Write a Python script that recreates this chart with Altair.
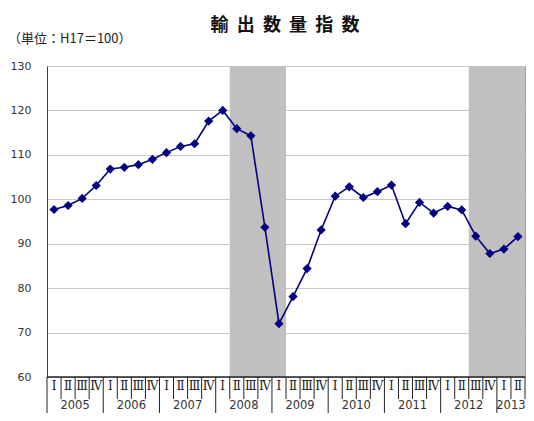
import altair as alt
import pandas as pd

# ---- data ----
years = ["2005", "2006", "2007", "2008", "2009", "2010", "2011", "2012", "2013"]
quarter_names = ["Ⅰ", "Ⅱ", "Ⅲ", "Ⅳ"]
values = [97.7, 98.6, 100.2, 103.1,
          106.8, 107.2, 107.8, 109.0,
          110.5, 111.9, 112.5, 117.6,
          120.0, 115.9, 114.3, 93.7,
          72.0, 78.1, 84.4, 93.1,
          100.7, 102.8, 100.4, 101.7,
          103.2, 94.5, 99.3, 96.9,
          98.4, 97.6, 91.7, 87.8,
          88.8, 91.6]
shade_start = [13, 30]
shade_end = [17, 34]
y_ticks = [60, 70, 80, 90, 100, 110, 120, 130]
title_text = "輸\u00a0\u00a0出\u00a0\u00a0数\u00a0\u00a0量\u00a0\u00a0指\u00a0\u00a0数"
unit_text = "（単位：H17＝100）"

W, H = 478, 311
n = len(values)

df = pd.DataFrame({
    "pos": [i + 0.5 for i in range(n)],
    "v": values,
    "q": [quarter_names[i % 4] for i in range(n)],
})
year_df = pd.DataFrame({
    "year": years,
    "pos": [(4 * k + min(4 * k + 4, n)) / 2 for k in range(len(years))],
})
shade_df = pd.DataFrame({"s": shade_start, "e": shade_end})
short_df = pd.DataFrame({"k": [k for k in range(1, n + 1) if k % 4 != 0 or k == n]})
long_df = pd.DataFrame({"k": [k for k in range(0, n) if k % 4 == 0]})

xscale = alt.Scale(domain=[0, n], nice=False, zero=False)
yscale = alt.Scale(domain=[60, 130], nice=False, zero=False)

shade = alt.Chart(shade_df).mark_rect(color="#c0c0c0").encode(
    x=alt.X("s:Q", scale=xscale,
            axis=alt.Axis(labels=False, ticks=False, grid=False, domain=False, title=None)),
    x2="e:Q",
    y=alt.value(0),
    y2=alt.value(H),
)

base = alt.Chart(df)
line = base.mark_line(color="#000080", strokeWidth=1.6).encode(
    x=alt.X("pos:Q", scale=xscale),
    y=alt.Y("v:Q", scale=yscale,
            axis=alt.Axis(values=y_ticks, grid=True, gridColor="#c8c8c8", gridWidth=1,
                          domain=True, domainColor="#404040", ticks=False,
                          labelPadding=16, labelFont="DejaVu Sans", labelFontSize=11,
                          labelColor="#333333", title=None)),
)
points = base.mark_point(shape="diamond", filled=True, size=85, color="#000080", opacity=1).encode(
    x=alt.X("pos:Q", scale=xscale),
    y=alt.Y("v:Q", scale=yscale),
)

qlabels = base.mark_text(font="DejaVu Serif", fontSize=12, color="#222222", baseline="middle").encode(
    x=alt.X("pos:Q", scale=xscale),
    y=alt.value(H + 9),
    text="q:N",
)
ylabels = alt.Chart(year_df).mark_text(font="DejaVu Sans", fontSize=11.5, color="#333333",
                                       baseline="middle").encode(
    x=alt.X("pos:Q", scale=xscale),
    y=alt.value(H + 29),
    text="year:N",
)

bottom_line = alt.Chart(shade_df).mark_rule(color="#222222", strokeWidth=1).encode(
    x=alt.value(0), x2=alt.value(W), y=alt.value(H)
)
short_rules = alt.Chart(short_df).mark_rule(color="#222222", strokeWidth=1).encode(
    x=alt.X("k:Q", scale=xscale), y=alt.value(H), y2=alt.value(H + 22)
)
long_rules = alt.Chart(long_df).mark_rule(color="#222222", strokeWidth=1).encode(
    x=alt.X("k:Q", scale=xscale), y=alt.value(H), y2=alt.value(H + 40)
)

title = alt.Chart(pd.DataFrame({"t": [title_text]})).mark_text(
    font="Noto Sans CJK JP", fontSize=18, fontWeight="bold", color="#111111",
    align="center", baseline="middle").encode(
    x=alt.value(238), y=alt.value(-40), text="t:N")
unit = alt.Chart(pd.DataFrame({"t": [unit_text]})).mark_text(
    font="Noto Sans CJK JP", fontSize=13, color="#222222",
    align="left", baseline="middle").encode(
    x=alt.value(-39), y=alt.value(-27), text="t:N")

chart = alt.layer(
    shade, line, points, bottom_line, short_rules, long_rules, qlabels, ylabels, title, unit
).properties(
    width=W, height=H,
    autosize=alt.AutoSizeParams(type="none"),
    padding={"left": 39, "top": 58, "right": 1, "bottom": 36},
).configure_view(stroke="#a0a0a0", strokeWidth=1)

chart.save("out.html", embed_options={"renderer": "svg", "actions": False})
